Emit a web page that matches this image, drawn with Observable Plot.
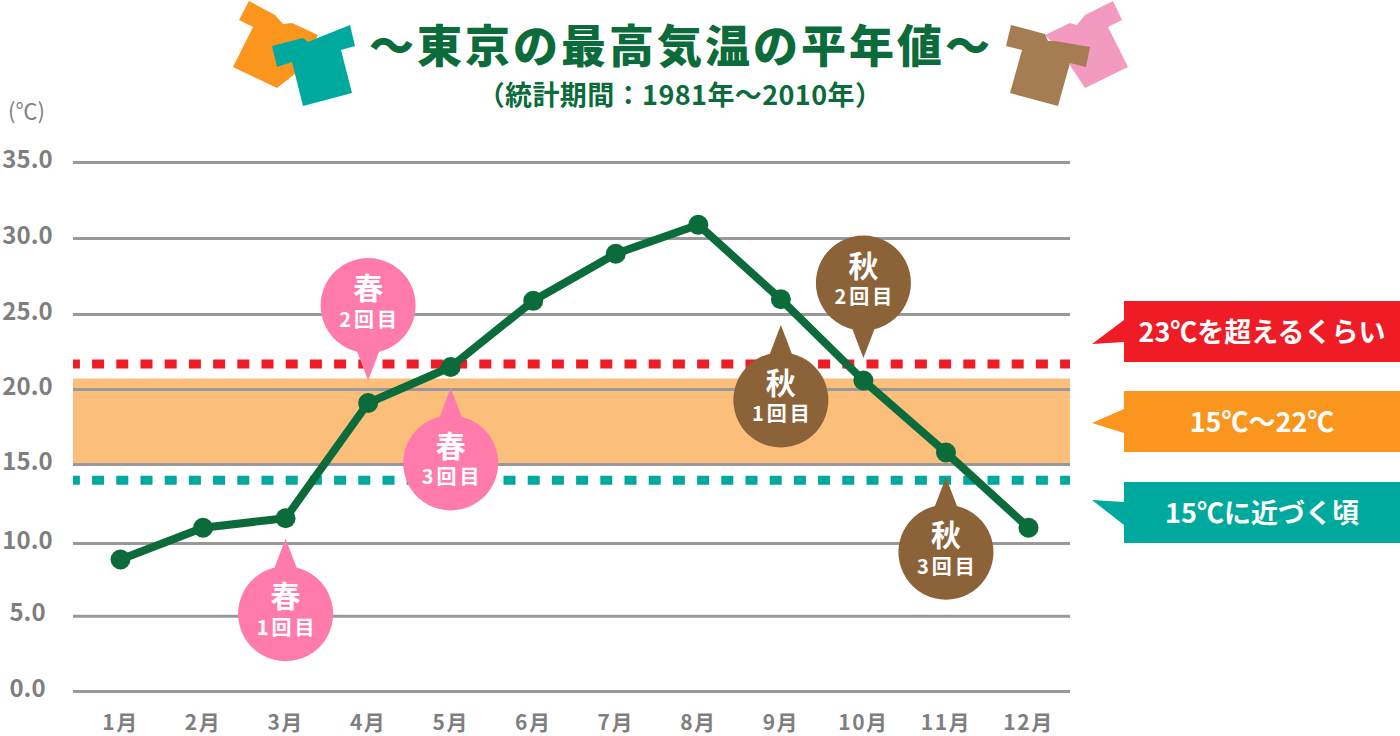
<!DOCTYPE html>
<html lang="ja"><head><meta charset="utf-8">
<script src="https://cdn.jsdelivr.net/npm/d3@7"></script>
<script src="https://cdn.jsdelivr.net/npm/@observablehq/plot@0.6"></script>
<style>
html,body{margin:0;padding:0;background:#fff;overflow:hidden}
body{width:1400px;height:736px;position:relative;font-family:"Noto Sans CJK JP","Noto Sans",sans-serif}
#head{position:relative;height:90px;width:1400px;z-index:2;pointer-events:none}
#head svg{position:absolute;left:0;top:0;overflow:visible}
#title{position:absolute;left:0;width:1362px;top:11px;line-height:66px;text-align:center;font-size:45px;font-weight:900;color:#0b6b3a;letter-spacing:3px;white-space:nowrap}
#sub{position:absolute;left:0;width:1360px;top:74px;line-height:40px;text-align:center;font-size:27px;font-weight:700;color:#0b6b3a;letter-spacing:.4px;white-space:nowrap}
.tag{position:absolute;left:1124px;width:276px;height:61px;line-height:60px;text-align:center;color:#fff;font-size:27px;font-weight:700;white-space:nowrap}
.tail{position:absolute;left:-32px;top:0;width:32px;height:61px}
#chart{position:absolute;left:0;top:90px}
.cnt{letter-spacing:3px}
.mon{letter-spacing:1.5px}
</style></head><body>
<div id="head">
<svg width="1400" height="110">
<polygon fill="#fa951e" points="249,1 275,15 283,24 292,23 318,35 300,70 277,88 233,67 253,27 239,20"/>
<polygon fill="#00a99d" points="350,25 355,46 341,50 352,93 303,106 292,62 277,67 272,46 303,38 308,42 315,39"/>
<polygon fill="#f29ac0" points="1113,1 1122,20 1108,27 1128,67 1085,88 1060,50 1045,35 1070,23 1077,25 1085,15"/>
<polygon fill="#a67c52" points="1011,25 1045,34 1048,41 1055,41 1090,47 1086,67 1070,63 1058,106 1010,93 1022,50 1006,46"/>
</svg>
<div id="title">～東京の最高気温の平年値～</div>
<div id="sub">（統計期間：1981年～2010年）</div>
</div>
<div id="chart"></div>
<div class="tag" style="top:301px;background:#ef1c25"><svg class="tail" viewBox="0 0 32 61"><polygon fill="#ef1c25" points="0,43 32,19 32,41"/></svg>23℃を超えるくらい</div>
<div class="tag" style="top:391px;background:#fa951e"><svg class="tail" viewBox="0 0 32 61"><polygon fill="#fa951e" points="0,32 32,18 32,42"/></svg>15℃～22℃</div>
<div class="tag" style="top:482px;background:#00a99d"><svg class="tail" viewBox="0 0 32 61"><polygon fill="#00a99d" points="0,18 32,20 32,43"/></svg>15℃に近づく頃</div>
<script>
const months = ["1月","2月","3月","4月","5月","6月","7月","8月","9月","10月","11月","12月"];
const maxTemps = [8.9,11.0,11.6,19.1,21.5,25.9,29.0,30.9,26.0,20.6,15.8,11.0];
const gridTicks = [0,5,10,15,20,25,30,35];
const bandRange = [14.9,20.7];
const warmLine = 21.7;
const coolLine = 14.0;
const calloutMonths = ["3月","4月","5月","9月","10月","11月"];
const calloutTips = [10.3,20.6,20.1,24.3,22.1,14.2];
const calloutSeasons = ["春","春","春","秋","秋","秋"];
const calloutCounts = ["1回目","2回目","3回目","1回目","2回目","3回目"];
const calloutTailUp = [true,false,true,true,false,true];

const rows = months.map((m,i)=>({m,t:maxTemps[i]}));
const callouts = calloutMonths.map((m,i)=>({m,t:calloutTips[i],s:calloutSeasons[i],c:calloutCounts[i],up:calloutTailUp[i]}));
const R=47.5, D=75, H=Math.asin(11/R);
const pinUp={draw(c){c.moveTo(0,0);c.arc(0,D,R,-Math.PI/2+H,-Math.PI/2-H+2*Math.PI);c.closePath();}};
const pinDown={draw(c){c.moveTo(0,0);c.arc(0,-D,R,Math.PI/2+H,Math.PI/2-H+2*Math.PI);c.closePath();}};
const up=callouts.filter(d=>d.up), down=callouts.filter(d=>!d.up);
const balloon=(data,symbol,dy1,dy2)=>[
  Plot.dot(data,{x:"m",y:"t",fill:"s",symbol}),
  Plot.text(data,{x:"m",y:"t",text:"s",dy:dy1,fill:"#fff",fontSize:30,fontWeight:700}),
  Plot.text(data,{x:"m",y:"t",text:"c",dy:dy2+1,dx:1.5,fill:"#fff",fontSize:20,fontWeight:700,className:"cnt"})
];
const dash=(v,c)=>Plot.ruleY([v],{stroke:c,strokeWidth:9,strokeDasharray:"12,12.2",strokeDashoffset:5.1});
const chart=Plot.plot({
  width:1400,height:646,marginLeft:73,marginRight:330,marginTop:0,marginBottom:45,
  style:{fontFamily:'"Noto Sans CJK JP","Noto Sans",sans-serif',background:"transparent"},
  x:{type:"point",domain:months,range:[120,1028],padding:0,round:false,label:null},
  y:{type:"linear",domain:gridTicks,range:[601,525.7,453,374,299,224,148,72],label:null},
  color:{type:"ordinal",domain:["春","秋"],range:["#ff7bac","#8c6239"]},
  marks:[
    Plot.rect([0],{y1:()=>bandRange[0],y2:()=>bandRange[1],fill:"#fbbf7b"}),
    Plot.ruleY(gridTicks,{stroke:"#999",strokeWidth:3}),
    dash(warmLine,"#ef1c25"),
    dash(coolLine,"#00a99d"),
    Plot.line(rows,{x:"m",y:"t",stroke:"#0b6b3a",strokeWidth:8}),
    Plot.dot(rows,{x:"m",y:"t",r:10,fill:"#0b6b3a"}),
    ...balloon(up,pinUp,59,89),
    ...balloon(down,pinDown,-91,-61),
    Plot.axisY({ticks:gridTicks,tickSize:0,tickPadding:46,textAnchor:"middle",dy:-2.5,tickFormat:d=>d.toFixed(1),fontSize:24,fontWeight:700,fill:"#7f7f7f",label:null}),
    Plot.axisX({tickSize:0,tickPadding:24,fontSize:21,fontWeight:700,fill:"#7f7f7f",label:null,className:"mon"}),
    Plot.text(["(℃)"],{frameAnchor:"top-left",textAnchor:"middle",dx:-47,dy:13,fontSize:22,fill:"#7f7f7f"})
  ]
});
document.getElementById("chart").append(chart);
</script>
</body></html>
